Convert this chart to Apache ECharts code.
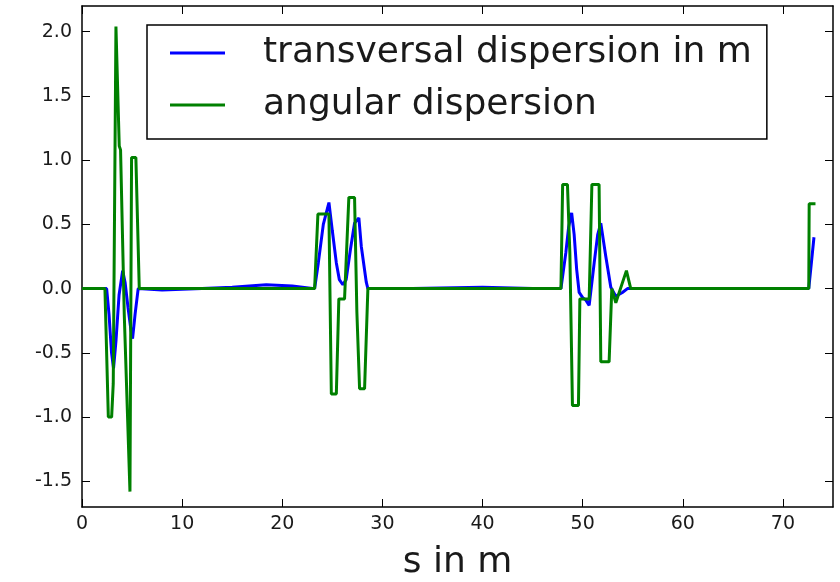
<!DOCTYPE html>
<html>
<head>
<meta charset="utf-8">
<script src="https://cdn.jsdelivr.net/npm/echarts@6/dist/echarts.min.js"></script>
<style>
html,body{margin:0;padding:0;background:#fff;}
#chart{width:840px;height:582px;}
</style>
</head>
<body>
<div id="chart"></div>
<script>
// ---- data ----
const seriesNames = ['transversal dispersion in m', 'angular dispersion'];

const transS = [0, 2.46, 2.7, 2.95, 3.15, 3.4, 3.7, 4.06, 4.3, 4.6, 4.85, 5.05, 5.3, 5.61,
  8, 12, 15, 18.4, 21, 23.23, 23.6, 24.1, 24.66, 25.0, 25.4, 25.7, 26.05, 26.38, 26.8, 27.22,
  27.65, 27.89, 28.39, 28.55, 33, 40, 45, 47.83, 48.32, 48.6, 48.9, 49.15, 49.4, 49.65, 50.0,
  50.32, 50.65, 51.15, 51.5, 51.81, 52.31, 52.81, 53.31, 53.97, 54.47, 60, 72.58, 73.1];
const transD = [0, 0, -0.2, -0.5, -0.62, -0.4, -0.05, 0.14, 0.05, -0.15, -0.3, -0.39, -0.2, 0,
  -0.01, 0, 0.01, 0.03, 0.02, 0, 0.2, 0.5, 0.67, 0.45, 0.2, 0.07, 0.03, 0.07, 0.3, 0.51,
  0.55, 0.33, 0.05, 0, 0, 0.01, 0, 0, 0.28, 0.48, 0.59, 0.42, 0.15, -0.03, -0.07,
  -0.09, -0.13, 0.2, 0.42, 0.51, 0.25, 0.01, -0.06, -0.03, 0, 0, 0, 0.40];

const angS = [0, 2.29, 2.63, 2.96, 3.12, 3.29, 3.39, 3.72, 3.85, 4.22, 4.39, 4.79, 4.95, 5.38, 5.72,
  23.23, 23.56, 24.66, 24.9, 25.4, 25.65, 26.22, 26.65, 27.22, 27.45, 27.72, 28.22, 28.55,
  47.83, 48.0, 48.48, 48.72, 48.98, 49.58, 49.72, 50.65, 50.92, 51.64, 51.81, 52.64, 52.91,
  53.31, 54.37, 54.8, 72.58, 72.62, 73.25];
const angD = [0, 0, -1.0, -1.0, -0.74, -0.74, 2.04, 1.11, 1.08, -0.2, -0.2, -1.58, 1.02, 1.02, 0,
  0, 0.58, 0.58, -0.82, -0.82, -0.08, -0.08, 0.71, 0.71, -0.18, -0.78, -0.78, 0,
  0, 0.81, 0.81, 0.28, -0.91, -0.91, -0.08, -0.08, 0.81, 0.81, -0.57, -0.57, 0,
  -0.11, 0.14, 0, 0, 0.66, 0.66];

const xTicks = [0, 10, 20, 30, 40, 50, 60, 70];
const yTicks = [-1.5, -1.0, -0.5, 0.0, 0.5, 1.0, 1.5, 2.0];
const xLabel = 's in m';

// ---- chart ----
const FONT = 'DejaVu Sans';
const chart = echarts.init(document.getElementById('chart'), null, {renderer: 'canvas'});

function axisCommon(extra) {
  return Object.assign({
    type: 'value',
    axisLine: {show: true, onZero: false, lineStyle: {color: '#000', width: 1.5}},
    splitLine: {show: false},
  }, extra);
}

const xBase = {min: 0, max: 75};
const yBase = {min: -1.7, max: 2.2};

const option = {
  animation: false,
  backgroundColor: '#fff',
  grid: {left: 82, right: 7, top: 6, bottom: 75, outerBoundsMode: 'none'},
  legend: {
    orient: 'vertical',
    left: 147, top: 25,
    padding: [10, 15, 16, 23],
    itemGap: 16,
    itemWidth: 55, itemHeight: 3,
    icon: 'rect',
    borderColor: '#000', borderWidth: 1.5, borderRadius: 0,
    textStyle: {fontFamily: FONT, fontSize: 36, color: '#1a1a1a', padding: [0, 0, 0, 33]},
    data: seriesNames
  },
  xAxis: [
    axisCommon(Object.assign({}, xBase, {
      position: 'bottom',
      axisTick: {show: true, inside: true, length: 8, customValues: xTicks, lineStyle: {color: '#000', width: 1}},
      axisLabel: {customValues: xTicks, fontFamily: FONT, fontSize: 19, color: '#1a1a1a', margin: 8},
      name: xLabel, nameLocation: 'middle', nameGap: 38,
      nameTextStyle: {fontFamily: FONT, fontSize: 36, color: '#1a1a1a'}
    })),
    axisCommon(Object.assign({}, xBase, {
      position: 'top',
      axisTick: {show: true, inside: true, length: 8, customValues: xTicks, lineStyle: {color: '#000', width: 1}},
      axisLabel: {show: false}
    }))
  ],
  yAxis: [
    axisCommon(Object.assign({}, yBase, {
      position: 'left',
      axisTick: {show: true, inside: true, length: 8, customValues: yTicks, lineStyle: {color: '#000', width: 1}},
      axisLabel: {customValues: yTicks, fontFamily: FONT, fontSize: 19, color: '#1a1a1a', margin: 10,
        formatter: v => Number(v).toFixed(1)}
    })),
    axisCommon(Object.assign({}, yBase, {
      position: 'right',
      axisTick: {show: true, inside: true, length: 8, customValues: yTicks, lineStyle: {color: '#000', width: 1}},
      axisLabel: {show: false}
    }))
  ],
  series: [
    {
      name: seriesNames[0], type: 'line', xAxisIndex: 0, yAxisIndex: 0,
      data: transS.map((s, i) => [s, transD[i]]),
      showSymbol: false, symbol: 'none',
      lineStyle: {color: '#0000ff', width: 3}, itemStyle: {color: '#0000ff'}, z: 2
    },
    {
      name: seriesNames[1], type: 'line', xAxisIndex: 0, yAxisIndex: 0,
      data: angS.map((s, i) => [s, angD[i]]),
      showSymbol: false, symbol: 'none',
      lineStyle: {color: '#008000', width: 3}, itemStyle: {color: '#008000'}, z: 3
    }
  ]
};
chart.setOption(option);
</script>
</body>
</html>
